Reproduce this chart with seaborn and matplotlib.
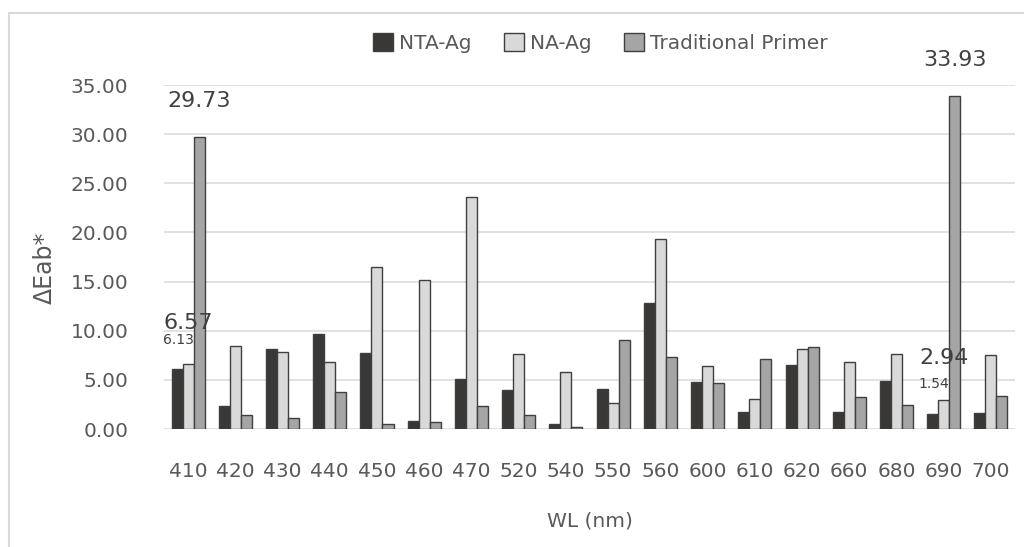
import matplotlib
matplotlib.use("Agg")
import matplotlib.pyplot as plt
import seaborn as sns
import pandas as pd
from matplotlib.patches import Rectangle

# Wavelengths (nm) and colour difference per primer
wavelengths = ["410", "420", "430", "440", "450", "460", "470", "520", "540",
               "550", "560", "600", "610", "620", "660", "680", "690", "700"]
nta_ag = [6.13, 2.34, 8.14, 9.66, 7.70, 0.78, 5.12, 3.97, 0.54,
          4.04, 12.85, 4.78, 1.73, 6.54, 1.76, 4.88, 1.54, 1.60]
na_ag = [6.57, 8.48, 7.83, 6.78, 16.51, 15.12, 23.63, 7.60, 5.77,
         2.61, 19.33, 6.44, 3.02, 8.17, 6.85, 7.66, 2.94, 7.49]
traditional = [29.73, 1.42, 1.15, 3.76, 0.50, 0.75, 2.37, 1.46, 0.20,
               9.09, 7.29, 4.65, 7.15, 8.37, 3.26, 2.41, 33.93, 3.32]
series_names = ["NTA-Ag", "NA-Ag", "Traditional Primer"]
y_ticks = [0, 5, 10, 15, 20, 25, 30, 35]

df = pd.DataFrame({
    "WL": wavelengths * 3,
    "dE": nta_ag + na_ag + traditional,
    "Series": [s for s in series_names for _ in wavelengths],
})

sns.set_theme(style="white")
plt.rcParams["font.family"] = ["DejaVu Sans"]

text_col = "#595959"
fig = plt.figure(figsize=(10.24, 5.47), dpi=100)
ax = fig.add_axes([0.1606, 0.2157, 0.8302, 0.6289])

# outer chart frame
fig.patches.append(Rectangle((9 / 1024, -0.05), 1.1, 1 - 13 / 547 + 0.05,
                             transform=fig.transFigure, fill=False,
                             edgecolor="#d9d9d9", linewidth=1.5, zorder=0))

sns.barplot(data=df, x="WL", y="dE", hue="Series", order=wavelengths,
            hue_order=series_names,
            palette=["#393837", "#d9d9d9", "#a5a5a5"],
            width=0.7, gap=0, errorbar=None, edgecolor="#3f3f3f",
            linewidth=1.0, ax=ax, zorder=3)

ax.set_ylim(0, 35)
ax.set_yticks(y_ticks)
ax.set_yticklabels([f"{t:.2f}" for t in y_ticks])
ax.yaxis.grid(True, color="#d9d9d9", linewidth=1.1, zorder=0)
ax.set_axisbelow(True)
for s in ax.spines.values():
    s.set_visible(False)
ax.tick_params(axis="both", length=0, labelsize=14.5, labelcolor=text_col)
ax.tick_params(axis="x", pad=24)
ax.tick_params(axis="y", pad=26)

ax.set_xlabel("WL (nm)", fontsize=14.5, color=text_col, labelpad=22)
ax.set_ylabel("ΔEab*", fontsize=17, color=text_col)
ax.yaxis.set_label_coords(-0.127, 0.47)

# value labels
dx = 0.7 / 3
ax.text(0 + dx, 33.4, f"{traditional[0]:.2f}", ha="center", va="center",
        fontsize=16, color="#404040", clip_on=False)
ax.text(0, 10.8, f"{na_ag[0]:.2f}", ha="center", va="center",
        fontsize=16, color="#404040", clip_on=False)
ax.text(-0.2, 9.05, f"{nta_ag[0]:.2f}", ha="center", va="center",
        fontsize=10, color="#404040", clip_on=False)
ax.text(16 + dx, 37.5, f"{traditional[16]:.2f}", ha="center", va="center",
        fontsize=16, color="#404040", clip_on=False)
ax.text(16, 7.2, f"{na_ag[16]:.2f}", ha="center", va="center",
        fontsize=16, color="#404040", clip_on=False)
ax.text(-0.2 + 16, 4.55, f"{nta_ag[16]:.2f}", ha="center", va="center",
        fontsize=10, color="#404040", clip_on=False)

handles, labels = ax.get_legend_handles_labels()
ax.legend(handles, labels, loc="center", bbox_to_anchor=(0.586, 0.921),
          bbox_transform=fig.transFigure, ncol=3, frameon=False,
          fontsize=14.5, labelcolor=text_col, handlelength=1.0,
          handleheight=1.0, handletextpad=0.3, columnspacing=1.6)

fig.savefig("out.png", dpi=100)
